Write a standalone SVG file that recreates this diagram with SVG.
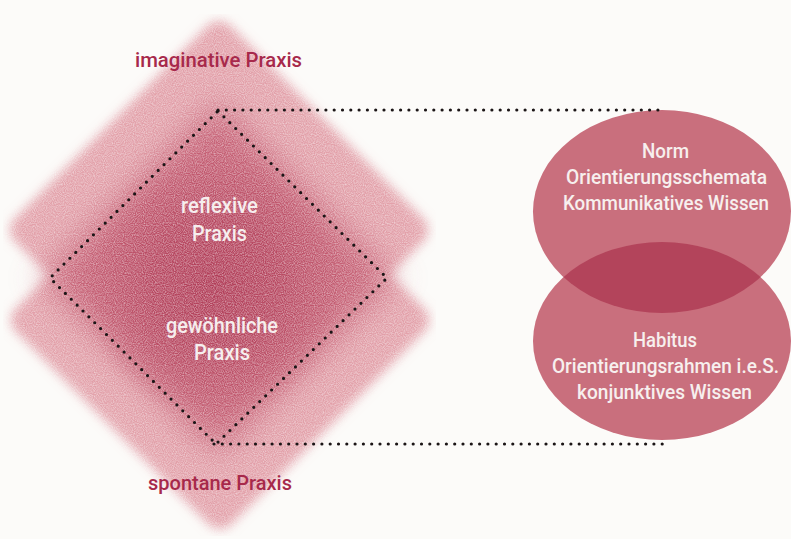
<svg xmlns="http://www.w3.org/2000/svg" width="791" height="539" viewBox="0 0 791 539">
  <style>
    .lbl { font-family: Roboto, "Liberation Sans", sans-serif; text-anchor: middle; font-weight: 500; }
    .title { fill: #a7294b; font-size: 19.5px; }
    .inner { fill: #f6eeee; font-size: 22px; }
    .ell { fill: #f7efee; font-size: 20px; }
    .dots { fill: none; stroke: #1b1516; stroke-width: 3.2; stroke-linecap: round; stroke-dasharray: 0 8.3; }
  </style>
  <defs>
    <filter id="blur5" x="-20%" y="-20%" width="140%" height="140%">
      <feGaussianBlur stdDeviation="5.5"/>
    </filter>
    <filter id="blur16" x="-30%" y="-30%" width="160%" height="160%">
      <feGaussianBlur stdDeviation="16"/>
    </filter>
    <filter id="grain" x="0" y="0" width="100%" height="100%" color-interpolation-filters="sRGB">
      <feTurbulence type="fractalNoise" baseFrequency="0.9" numOctaves="1" seed="7" result="n"/>
      <feColorMatrix in="n" type="matrix" values="0 0 0 0 1  0 0 0 0 1  0 0 0 0 1  1.0 0 0 0 -0.34" result="g"/>
      <feComposite in="g" in2="SourceGraphic" operator="atop"/>
    </filter>
    <radialGradient id="core" cx="0.5" cy="0.5" r="0.5">
      <stop offset="0" stop-color="#b03c57" stop-opacity="1"/>
      <stop offset="0.5" stop-color="#b3415b" stop-opacity="0.75"/>
      <stop offset="1" stop-color="#b84a62" stop-opacity="0"/>
    </radialGradient>
    <clipPath id="upperClip">
      <ellipse cx="662" cy="211.5" rx="129" ry="101.5"/>
    </clipPath>
  </defs>

  <rect width="791" height="539" fill="#fcfbf9"/>

  <!-- diamond planes -->
  <g id="praxis-planes" filter="url(#grain)">
    <g filter="url(#blur5)" fill="#e2a0a9">
      <rect id="plane-imaginative" x="66.5" y="77.5" width="305" height="305" rx="16" transform="rotate(45 219 230)"/>
      <rect id="plane-spontane" x="67.5" y="167.5" width="305" height="305" rx="16" transform="rotate(45 220 320)"/>
    </g>
    <rect x="94" y="154" width="248" height="248" rx="10" fill="#c45d72" filter="url(#blur16)" transform="rotate(45 218 278)"/>
    <ellipse cx="214" cy="285" rx="130" ry="135" fill="url(#core)"/>
  </g>

  <!-- ellipses -->
  <g id="norm">
    <ellipse cx="662" cy="211.5" rx="129" ry="101.5" fill="#c96f7d"/>
  </g>
  <g id="habitus">
    <ellipse cx="662" cy="341" rx="129" ry="99" fill="#c96f7d"/>
    <ellipse cx="662" cy="341" rx="129" ry="99" fill="#b3445b" clip-path="url(#upperClip)"/>
  </g>

  <!-- connectors -->
  <g id="connectors">
    <path class="dots" d="M218 111 L387 278 L216 444 L50 278 Z"/>
    <path class="dots" d="M218 110 L666 110"/>
    <path class="dots" d="M214 444 L666 444"/>
  </g>

  <!-- labels -->
  <g id="imaginative">
    <text class="lbl title" x="218.5" y="67" textLength="167" lengthAdjust="spacingAndGlyphs">imaginative Praxis</text>
  </g>
  <g id="spontane">
    <text class="lbl title" x="220" y="490" textLength="144" lengthAdjust="spacingAndGlyphs">spontane Praxis</text>
  </g>
  <g id="reflexive">
    <text class="lbl inner" x="219.5" y="213" textLength="77" lengthAdjust="spacingAndGlyphs">reflexive</text>
    <text class="lbl inner" x="219.5" y="241" textLength="55" lengthAdjust="spacingAndGlyphs">Praxis</text>
  </g>
  <g id="gewoehnliche">
    <text class="lbl inner" x="222" y="333" textLength="112" lengthAdjust="spacingAndGlyphs">gewöhnliche</text>
    <text class="lbl inner" x="222" y="360" textLength="56" lengthAdjust="spacingAndGlyphs">Praxis</text>
  </g>
  <g id="norm-text">
    <text class="lbl ell" x="665.5" y="158" textLength="47" lengthAdjust="spacingAndGlyphs">Norm</text>
    <text class="lbl ell" x="666.5" y="184" textLength="201" lengthAdjust="spacingAndGlyphs">Orientierungsschemata</text>
    <text class="lbl ell" x="666" y="210" textLength="206" lengthAdjust="spacingAndGlyphs">Kommunikatives Wissen</text>
  </g>
  <g id="habitus-text">
    <text class="lbl ell" x="665" y="347" textLength="64" lengthAdjust="spacingAndGlyphs">Habitus</text>
    <text class="lbl ell" x="665.5" y="373" textLength="227" lengthAdjust="spacingAndGlyphs">Orientierungsrahmen i.e.S.</text>
    <text class="lbl ell" x="664.5" y="399" textLength="175" lengthAdjust="spacingAndGlyphs">konjunktives Wissen</text>
  </g>
</svg>
